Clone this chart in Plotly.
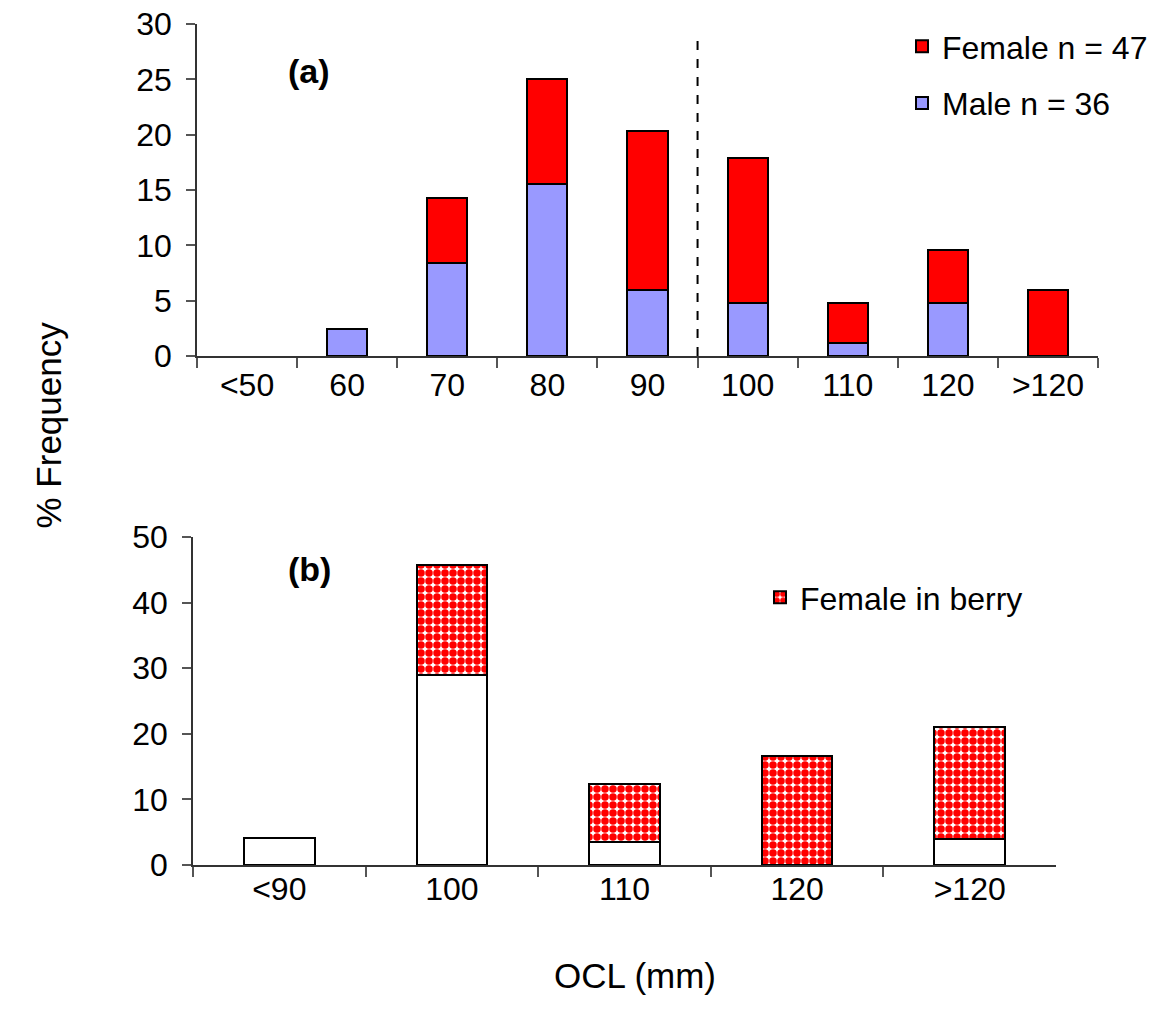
import plotly.graph_objects as go

# Panel (a)  (None = no bar drawn)
cats_a = ["<50", "60", "70", "80", "90", "100", "110", "120", ">120"]
male_a = [None, 2.4, 8.4, 15.5, 6.0, 4.8, 1.2, 4.8, None]
female_a = [None, None, 5.9, 9.5, 14.3, 13.1, 3.6, 4.8, 6.0]

# Panel (b)
cats_b = ["<90", "100", "110", "120", ">120"]
not_berry_b = [4.1, 29.0, 3.5, None, 4.0]
berry_b = [None, 16.7, 8.8, 16.6, 17.0]

FONT = "Liberation Sans, Arial, sans-serif"
FS = 32
W, H = 1163, 1021

fig = go.Figure()

line = dict(color="black", width=2)
fig.add_trace(go.Bar(x=cats_a, y=male_a, name="Male n = 36", marker=dict(color="#9999FF", line=line),
                     width=0.4, xaxis="x", yaxis="y", legend="legend", legendgroup="m", legendrank=2))
fig.add_trace(go.Bar(x=cats_a, y=female_a, name="Female n = 47", marker=dict(color="#FF0000", line=line),
                     width=0.4, xaxis="x", yaxis="y", legend="legend", legendgroup="f", legendrank=1))

fig.add_trace(go.Bar(x=cats_b, y=not_berry_b, name="Not in berry", showlegend=False,
                     marker=dict(color="white", line=line), width=0.41, xaxis="x2", yaxis="y2"))
fig.add_trace(go.Bar(x=cats_b, y=berry_b, name="Female in berry",
                     marker=dict(color="#FF0000", line=line,
                                 pattern=dict(shape=".", fgcolor="#FF0000", bgcolor="white",
                                              fgopacity=1, size=8, solidity=0.7, fillmode="replace")),
                     width=0.41, xaxis="x2", yaxis="y2", legend="legend2"))

def px_x(p):
    return p / W

def px_y(p):
    return 1 - p / H

axis_common = dict(showgrid=False, zeroline=False, showline=True, linecolor="#333", linewidth=1.5,
                   ticks="outside", tickcolor="#555", tickwidth=1.5, automargin=False,
                   tickfont=dict(family=FONT, size=FS, color="black"))

fig.update_layout(
    template="none",
    width=W, height=H, autosize=False,
    margin=dict(l=0, r=0, t=0, b=0, pad=0),
    paper_bgcolor="white", plot_bgcolor="white",
    barmode="stack",
    font=dict(family=FONT, size=FS, color="black"),
    xaxis=dict(type="category", domain=[px_x(197), px_x(1098)], anchor="y", tickson="boundaries",
               ticklen=10, ticklabelstandoff=0, **axis_common),
    yaxis=dict(domain=[px_y(356), px_y(24)], anchor="x", range=[0, 30], dtick=5, ticklen=9,
               ticklabelstandoff=8, **axis_common),
    xaxis2=dict(type="category", domain=[px_x(193), px_x(1056)], anchor="y2", tickson="boundaries",
                ticklen=10, ticklabelstandoff=-5, **axis_common),
    yaxis2=dict(domain=[px_y(865), px_y(537)], anchor="x2", range=[0, 50], dtick=10, ticklen=9,
                ticklabelstandoff=8, **axis_common),
    legend=dict(x=px_x(902), y=px_y(19), xanchor="left", yanchor="top",
                traceorder="grouped", tracegroupgap=12,
                font=dict(family=FONT, size=FS), bgcolor="rgba(0,0,0,0)", itemwidth=30),
    legend2=dict(x=px_x(760), y=px_y(570), xanchor="left", yanchor="top",
                 font=dict(family=FONT, size=FS), bgcolor="rgba(0,0,0,0)", itemwidth=30),
    showlegend=True,
)

# dashed divider between 90 and 100
fig.add_shape(type="line", xref="x", yref="y", x0=4.5, x1=4.5, y0=0, y1=28.5,
              line=dict(color="black", width=2, dash="dash"))

fig.add_annotation(text="<b>(a)</b>", xref="paper", yref="paper", x=px_x(286), y=px_y(50),
                   showarrow=False, font=dict(family=FONT, size=34))
fig.add_annotation(text="<b>(b)</b>", xref="paper", yref="paper", x=px_x(286), y=px_y(569),
                   showarrow=False, font=dict(family=FONT, size=34))
fig.add_annotation(text="% Frequency", xref="paper", yref="paper", x=px_x(26), y=px_y(425),
                   showarrow=False, textangle=-90, font=dict(family=FONT, size=35))
fig.add_annotation(text="OCL (mm)", xref="paper", yref="paper", x=px_x(635), y=px_y(997),
                   showarrow=False, font=dict(family=FONT, size=35))

fig.write_html("out.html")
